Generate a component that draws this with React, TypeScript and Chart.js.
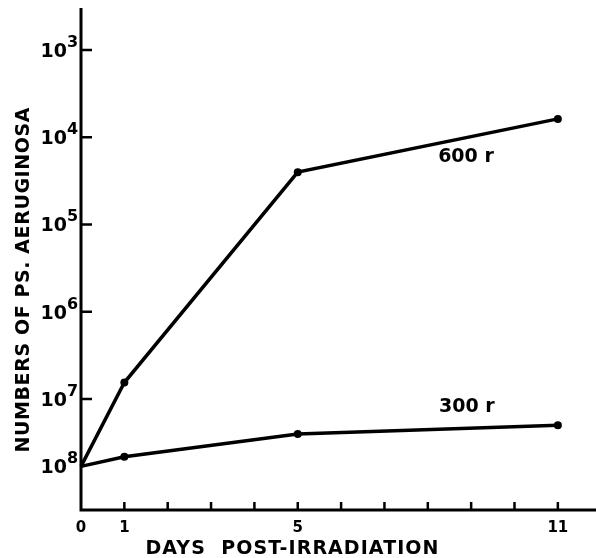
import { useEffect, useRef } from 'react';
import { Chart, registerables } from 'chart.js';

Chart.register(...registerables);

// ---- data (y values are positions in "decade" units on the printed axis, 10^3 at top) ----
const days = [0, 1, 5, 11];
const series600 = [7.77, 6.81, 4.4, 3.79];
const series300 = [7.77, 7.66, 7.4, 7.3];
const seriesNames = ['600 r', '300 r'];
const seriesLabelPos = [
  { x: 8.88, y: 4.23 },
  { x: 8.9, y: 7.09 },
];
const yTickPositions = [3, 4, 5, 6, 7, 7.77];
const yTickExponents = ['3', '4', '5', '6', '7', '8'];
const yTickMarkPositions = [3, 4, 5, 6, 7];
const xTickDays = [1, 2, 3, 4, 5, 6, 7, 8, 9, 10, 11];
const xLabeledDays = [0, 1, 5, 11];
const xTitle = 'DAYS  POST-IRRADIATION';
const yTitle = 'NUMBERS OF PS. AERUGINOSA';

const FONT = '"DejaVu Sans", sans-serif';

function spacedText(ctx: CanvasRenderingContext2D, text: string, cx: number, cy: number, target: number) {
  (ctx as any).letterSpacing = '0px';
  const natural = ctx.measureText(text).width;
  const sp = (target - natural) / (text.length - 1);
  (ctx as any).letterSpacing = sp + 'px';
  ctx.textAlign = 'left';
  ctx.textBaseline = 'middle';
  ctx.fillText(text, cx - target / 2, cy);
  (ctx as any).letterSpacing = '0px';
}

const decor = {
  id: 'decor',
  beforeDatasetsDraw(chart: any) {
    const { ctx, chartArea, scales } = chart;
    const x = scales.x;
    const y = scales.y;
    ctx.save();
    ctx.strokeStyle = '#000';
    ctx.lineWidth = 3;
    ctx.beginPath();
    ctx.moveTo(chartArea.left, chartArea.top);
    ctx.lineTo(chartArea.left, chartArea.bottom);
    ctx.lineTo(chartArea.right, chartArea.bottom);
    ctx.stroke();
    ctx.lineWidth = 2.5;
    ctx.beginPath();
    yTickMarkPositions.forEach((v) => {
      const py = y.getPixelForValue(v);
      ctx.moveTo(chartArea.left, py);
      ctx.lineTo(chartArea.left + 11, py);
    });
    xTickDays.forEach((d) => {
      const px = x.getPixelForValue(d);
      ctx.moveTo(px, chartArea.bottom);
      ctx.lineTo(px, chartArea.bottom - 8);
    });
    ctx.stroke();
    ctx.restore();
  },
  afterDraw(chart: any) {
    const { ctx, chartArea, scales } = chart;
    const x = scales.x;
    const y = scales.y;
    ctx.save();
    ctx.fillStyle = '#000';
    yTickPositions.forEach((v, i) => {
      const py = y.getPixelForValue(v);
      ctx.font = `bold 19px ${FONT}`;
      ctx.textAlign = 'right';
      ctx.textBaseline = 'alphabetic';
      ctx.fillText('10', chartArea.left - 14, py + 0.365 * 19);
      ctx.font = `bold 16px ${FONT}`;
      ctx.textAlign = 'left';
      ctx.fillText(yTickExponents[i], chartArea.left - 14, py - 9 + 0.365 * 16);
    });
    ctx.font = `bold 15px ${FONT}`;
    ctx.textAlign = 'center';
    ctx.textBaseline = 'alphabetic';
    xLabeledDays.forEach((d) => {
      ctx.fillText(String(d), x.getPixelForValue(d), chartArea.bottom + 17 + 0.365 * 15);
    });
    ctx.font = `bold 19px ${FONT}`;
    ctx.textAlign = 'center';
    ctx.textBaseline = 'middle';
    seriesNames.forEach((n, i) => {
      const p = seriesLabelPos[i];
      ctx.fillText(n, x.getPixelForValue(p.x), y.getPixelForValue(p.y));
    });
    ctx.font = `bold 19px ${FONT}`;
    spacedText(ctx, xTitle, 292, 549, 293);
    ctx.save();
    ctx.translate(24, 280);
    ctx.rotate(-Math.PI / 2);
    spacedText(ctx, yTitle, 0, 0, 345);
    ctx.restore();
    ctx.restore();
  },
};

export default function App() {
  const ref = useRef<HTMLCanvasElement>(null);
  useEffect(() => {
    if (!ref.current) return;
    const mk = (vals: number[]) => days.map((d, i) => ({ x: d, y: vals[i] }));
    const ds = (vals: number[]) => ({
      data: mk(vals),
      borderColor: '#000',
      backgroundColor: '#000',
      borderWidth: 3.5,
      pointRadius: [0, 4, 4, 4],
      pointBackgroundColor: '#000',
      pointBorderWidth: 0,
      tension: 0,
      clip: false as any,
    });
    const chart = new Chart(ref.current, {
      type: 'line',
      data: { datasets: [ds(series600), ds(series300)] },
      options: {
        animation: false,
        responsive: false,
        layout: { autoPadding: false, padding: { left: 81, top: 8, right: 0, bottom: 48 } },
        plugins: { legend: { display: false }, tooltip: { enabled: false }, title: { display: false } },
        scales: {
          x: { type: 'linear', display: false, min: 0, max: 11.88 },
          y: { type: 'linear', display: false, reverse: true, min: 2.52, max: 8.27 },
        },
      },
      plugins: [decor],
    });
    return () => chart.destroy();
  }, []);
  return (
    <div style={{ position: 'absolute', left: 0, top: 0, width: 596, height: 558, background: '#fff', overflow: 'hidden' }}>
      <canvas ref={ref} width={596} height={558} style={{ display: 'block' }} />
    </div>
  );
}
